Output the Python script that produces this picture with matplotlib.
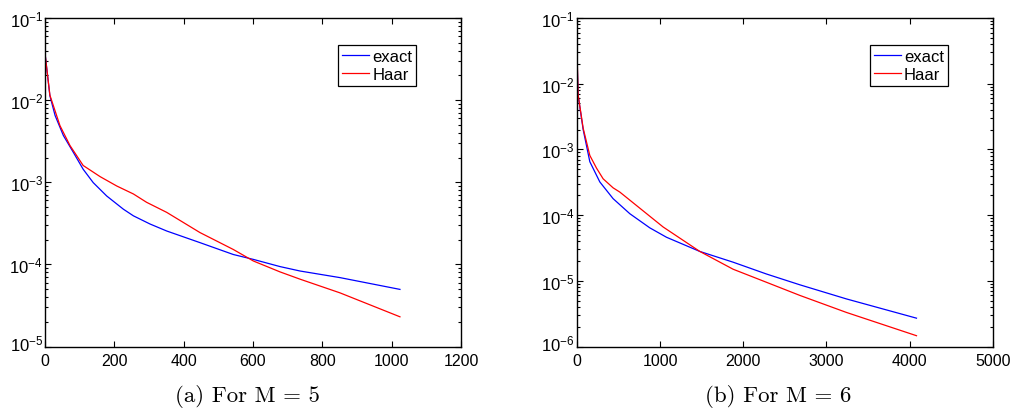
import matplotlib
matplotlib.use('Agg')
import matplotlib.pyplot as plt
from matplotlib.transforms import ScaledTranslation

plt.rcParams['font.family'] = 'Liberation Sans'
plt.rcParams['mathtext.fontset'] = 'custom'
plt.rcParams['mathtext.rm'] = 'Liberation Sans'
plt.rcParams['mathtext.it'] = 'Liberation Sans:italic'

# panel (a), M = 5
n_a_exact = [1, 14, 29, 53, 82, 110, 139, 178, 226, 255, 303, 351, 447, 543, 601,
             678, 736, 851, 1024]
err_a_exact = [0.034, 0.0113, 0.0065, 0.0037, 0.0023, 0.00144, 0.00099, 0.00068,
               0.00047, 0.00039, 0.00031, 0.000255, 0.000184, 0.000132, 0.000115,
               9.4e-5, 8.3e-5, 6.9e-5, 4.96e-5]
n_a_haar = [1, 14, 43, 72, 110, 159, 207, 255, 293, 351, 447, 543, 601, 678, 736,
            851, 1024]
err_a_haar = [0.034, 0.0115, 0.0049, 0.0028, 0.0016, 0.00117, 0.0009, 0.00072,
              0.00057, 0.00043, 0.000244, 0.000152, 0.00011, 8.1e-5, 6.6e-5,
              4.5e-5, 2.3e-5]

# panel (b), M = 6
n_b_exact = [1, 16, 76, 156, 276, 436, 637, 877, 1078, 1478, 1879, 2279, 2680,
             3241, 4083]
err_b_exact = [0.028, 0.0066, 0.0020, 0.00065, 0.00032, 0.000178, 0.000105, 6.4e-5,
               4.6e-5, 2.8e-5, 1.92e-5, 1.27e-5, 8.7e-6, 5.3e-6, 2.7e-6]
n_b_haar = [1, 16, 76, 156, 236, 316, 436, 517, 717, 1037, 1478, 1879, 2279, 2680,
            3241, 4083]
err_b_haar = [0.034, 0.0067, 0.0021, 0.00081, 0.00052, 0.000357, 0.00026, 0.000224,
              0.00014, 6.6e-5, 2.8e-5, 1.5e-5, 9.5e-6, 6.0e-6, 3.3e-6, 1.46e-6]

captions = ['(a) For M = 5', '(b) For M = 6']


def setup(ax, xmax, ymin):
    ax.set_yscale('log')
    ax.set_xlim(0, xmax)
    ax.set_ylim(ymin, 1e-1)
    ax.tick_params(which='both', direction='in', top=True, right=True, width=0.8)
    ax.tick_params(axis='x', labelsize=11.5, pad=4.5)
    ax.tick_params(axis='y', labelsize=12, pad=1.5)
    ax.tick_params(which='major', length=4)
    ax.tick_params(which='minor', length=2)
    for s in ax.spines.values():
        s.set_linewidth(1.0)
    leg = ax.legend(loc='upper right', bbox_to_anchor=(0.893, 0.918), fontsize=12,
                    fancybox=False, framealpha=1, edgecolor='black',
                    handlelength=1.6, handletextpad=0.2, borderpad=0.25,
                    labelspacing=0.15, borderaxespad=0)
    leg.get_frame().set_linewidth(0.9)


fig = plt.figure(figsize=(10.12, 4.14), dpi=100)
ax1 = fig.add_axes([0.0445, 0.1606, 0.411, 0.7935])
ax2 = fig.add_axes([0.570, 0.1606, 0.411, 0.7935])

ax1.plot(n_a_exact, err_a_exact, color='blue', lw=0.9, label='exact')
ax1.plot(n_a_haar, err_a_haar, color='red', lw=0.9, label='Haar')
setup(ax1, 1200, 1e-5)

ax2.plot(n_b_exact, err_b_exact, color='blue', lw=0.9, label='exact')
ax2.plot(n_b_haar, err_b_haar, color='red', lw=0.9, label='Haar')
setup(ax2, 5000, 1e-6)

# nudge the lowest y label up a little so it clears the "0" below it
fig.canvas.draw()
for ax in (ax1, ax2):
    lab = ax.yaxis.get_major_ticks()[0].label1
    for t in ax.yaxis.get_major_ticks():
        if t.get_loc() <= ax.get_ylim()[0] * 1.0001:
            lab = t.label1
    lab.set_transform(lab.get_transform() + ScaledTranslation(0, 3 / 72, fig.dpi_scale_trans))

fig.text(0.2444, 0.042, captions[0], ha='center', va='center', family='cmr10', fontsize=16.5)
fig.text(0.769, 0.042, captions[1], ha='center', va='center', family='cmr10', fontsize=16.5)

fig.savefig('out.png', dpi=100)
